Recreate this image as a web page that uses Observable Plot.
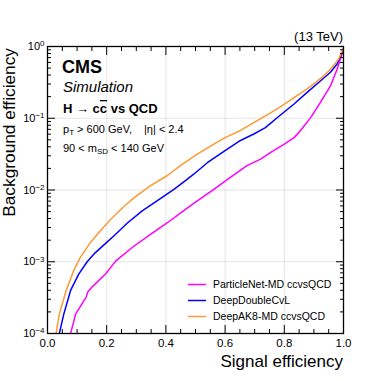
<!DOCTYPE html>
<html><head><meta charset="utf-8">
<script src="https://cdn.jsdelivr.net/npm/d3@7"></script>
<script src="https://cdn.jsdelivr.net/npm/@observablehq/plot@0.6"></script>
<style>
html,body{margin:0;padding:0;background:#fff;}
#chart svg{display:block;}
</style></head><body><div id="chart"></div>
<script>
const FONT = "'Liberation Sans', Arial, Helvetica, sans-serif";

const seriesNames = ["ParticleNet-MD ccvsQCD", "DeepDoubleCvL", "DeepAK8-MD ccvsQCD"];
const seriesColors = ["#ff00ff", "#0000ff", "#ff9933"];

// ParticleNet-MD ccvsQCD
const pnetSig = [0.078,0.095,0.123,0.13,0.136,0.151,0.196,0.23,0.286,0.348,0.404,0.466,0.50,0.556,0.613,0.674,0.72,0.753,0.80,0.833,0.855,0.889,0.922,0.956,0.979,0.993,1.0];
const pnetBkg = [1.0e-4,1.86e-4,2.88e-4,3.16e-4,3.80e-4,4.47e-4,6.76e-4,1.02e-3,1.58e-3,2.40e-3,3.47e-3,5.37e-3,6.76e-3,9.77e-3,1.45e-2,2.19e-2,2.69e-2,3.31e-2,4.37e-2,5.37e-2,6.76e-2,0.102,0.166,0.282,0.490,0.741,0.891];

// DeepDoubleCvL
const ddcvlSig = [0.04,0.055,0.078,0.106,0.134,0.16,0.20,0.224,0.27,0.32,0.37,0.427,0.466,0.494,0.54,0.60,0.652,0.697,0.736,0.78,0.833,0.877,0.922,0.956,0.979,0.995,1.0];
const ddcvlBkg = [1.0e-4,1.86e-4,3.98e-4,6.76e-4,1.0e-3,1.32e-3,1.86e-3,2.29e-3,3.47e-3,5.13e-3,7.08e-3,1.02e-2,1.35e-2,1.66e-2,2.40e-2,3.55e-2,4.90e-2,6.03e-2,7.41e-2,0.105,0.158,0.229,0.331,0.437,0.575,0.832,0.933];

// DeepAK8-MD ccvsQCD
const dak8Sig = [0.029,0.04,0.063,0.089,0.111,0.145,0.18,0.213,0.258,0.292,0.348,0.404,0.449,0.506,0.562,0.60,0.652,0.697,0.736,0.78,0.838,0.877,0.90,0.933,0.962,0.984,1.0];
const dak8Bkg = [1.0e-4,1.86e-4,3.98e-4,7.59e-4,1.15e-3,1.86e-3,2.75e-3,3.89e-3,5.89e-3,7.76e-3,1.15e-2,1.58e-2,2.19e-2,3.16e-2,4.37e-2,5.37e-2,6.76e-2,8.71e-2,0.108,0.138,0.200,0.257,0.302,0.389,0.513,0.676,0.955];

const xMajorTicks = [0, 0.2, 0.4, 0.6, 0.8, 1.0];
const xTickLabels = ["0.0", "0.2", "0.4", "0.6", "0.8", "1.0"];
const xMinorTicks = [0.05,0.1,0.15,0.25,0.3,0.35,0.45,0.5,0.55,0.65,0.7,0.75,0.85,0.9,0.95];
const yMajorTicks = [1e-4, 1e-3, 1e-2, 1e-1, 1];
const yTickLabels = ["10^\u22124", "10^\u22123", "10^\u22122", "10^\u22121", "10^0"];
const yMinorTicks = yMajorTicks.slice(0, 4).flatMap(d => [2,3,4,5,6,7,8,9].map(k => +(k * d).toPrecision(3)));

const sigs = [pnetSig, ddcvlSig, dak8Sig];
const bkgs = [pnetBkg, ddcvlBkg, dak8Bkg];
const rows = seriesNames.flatMap((name, s) => sigs[s].map((x, i) => ({series: name, sig: x, bkg: bkgs[s][i]})));

const blank = () => "";
const plot = Plot.plot({
  width: 381, height: 381,
  marginLeft: 47, marginRight: 38, marginTop: 46, marginBottom: 48,
  style: {fontFamily: FONT, fontSize: "11.5px", background: "white", color: "black", overflow: "visible"},
  x: {domain: [0, 1], label: null},
  y: {type: "log", domain: [1e-4, 1], label: null},
  color: {domain: seriesNames, range: seriesColors},
  marks: [
    Plot.gridX(xMajorTicks.slice(1, 5), {stroke: "#000", strokeOpacity: 0.1}),
    Plot.gridY(yMajorTicks.slice(1, 4), {stroke: "#000", strokeOpacity: 0.1}),
    Plot.line(rows, {x: "sig", y: "bkg", z: "series", stroke: "series", strokeWidth: 1.5, clip: true}),
    Plot.frame({stroke: "black", strokeWidth: 1.3}),
    // inward ticks, all four sides
    Plot.axisX(xMajorTicks, {anchor: "bottom", tickSize: -8, tickFormat: blank, label: null}),
    Plot.axisX(xMinorTicks, {anchor: "bottom", tickSize: -4, tickFormat: blank, label: null}),
    Plot.axisX(xMajorTicks, {anchor: "top", tickSize: -8, tickFormat: blank, label: null}),
    Plot.axisX(xMinorTicks, {anchor: "top", tickSize: -4, tickFormat: blank, label: null}),
    Plot.axisY(yMajorTicks, {anchor: "left", tickSize: -8, tickFormat: blank, label: null}),
    Plot.axisY(yMinorTicks, {anchor: "left", tickSize: -4, tickFormat: blank, label: null}),
    Plot.axisY(yMajorTicks, {anchor: "right", tickSize: -8, tickFormat: blank, label: null}),
    Plot.axisY(yMinorTicks, {anchor: "right", tickSize: -4, tickFormat: blank, label: null}),
    // tick labels
    Plot.axisX(xMajorTicks, {anchor: "bottom", tickSize: 0, tickPadding: 5, fontSize: 11.5,
      tickFormat: d => xTickLabels[xMajorTicks.indexOf(d)], label: null}),
    Plot.axisY(yMajorTicks, {anchor: "left", tickSize: 0, tickPadding: 3, fontSize: 11,
      tickFormat: d => yTickLabels[yMajorTicks.indexOf(d)], label: null})
  ]
});
document.getElementById("chart").appendChild(plot);

const svg = d3.select(plot);
// superscript exponents on y tick labels
svg.selectAll('g[aria-label="y-axis tick label"] text').each(function() {
  const t = d3.select(this);
  const parts = t.text().split("^");
  if (parts.length !== 2) return;
  t.text(parts[0]);
  t.append("tspan").attr("dy", "-0.45em").attr("font-size", "8px").text(parts[1]);
});

const ann = svg.append("g").attr("font-family", FONT).attr("fill", "black").attr("text-anchor", "start");
// (13 TeV)
ann.append("text").attr("x", 343).attr("y", 41).attr("text-anchor", "end").attr("font-size", 13).text("(13 TeV)");
// axis titles
ann.append("text").attr("x", 343).attr("y", 367).attr("text-anchor", "end").attr("font-size", 17).text("Signal efficiency");
ann.append("text").attr("transform", "translate(15,48) rotate(-90)").attr("text-anchor", "end").attr("font-size", 17.3).text("Background efficiency");
// CMS labels
ann.append("text").attr("x", 62).attr("y", 73).attr("font-size", 18).attr("font-weight", "bold").text("CMS");
ann.append("text").attr("x", 63).attr("y", 92).attr("font-size", 15).attr("font-style", "italic").text("Simulation");
const h = ann.append("text").attr("x", 63).attr("y", 113).attr("font-size", 13).attr("font-weight", "bold");
h.append("tspan").text("H \u2192 c");
h.append("tspan").attr("text-decoration", "overline").text("c");
h.append("tspan").text(" vs QCD");
const pt = ann.append("text").attr("x", 63).attr("y", 133).attr("font-size", 11);
pt.append("tspan").text("p");
pt.append("tspan").attr("dy", 2).attr("font-size", 8).text("T");
pt.append("tspan").attr("dy", -2).text(" > 600 GeV,");
ann.append("text").attr("x", 144).attr("y", 133).attr("font-size", 11).text("|\u03b7| < 2.4");
const ms = ann.append("text").attr("x", 63).attr("y", 152).attr("font-size", 11);
ms.append("tspan").text("90 < m");
ms.append("tspan").attr("dy", 2).attr("font-size", 8).text("SD");
ms.append("tspan").attr("dy", -2).text(" < 140 GeV");

// legend
const legendBaselines = [288, 304, 320];
seriesNames.forEach((name, i) => {
  const yb = legendBaselines[i];
  ann.append("line").attr("x1", 188).attr("x2", 206).attr("y1", yb - 3.5).attr("y2", yb - 3.5)
    .attr("stroke", seriesColors[i]).attr("stroke-width", 1.5);
  ann.append("text").attr("x", 213).attr("y", yb).attr("font-size", 10.5).text(name);
});
</script>
</body></html>
